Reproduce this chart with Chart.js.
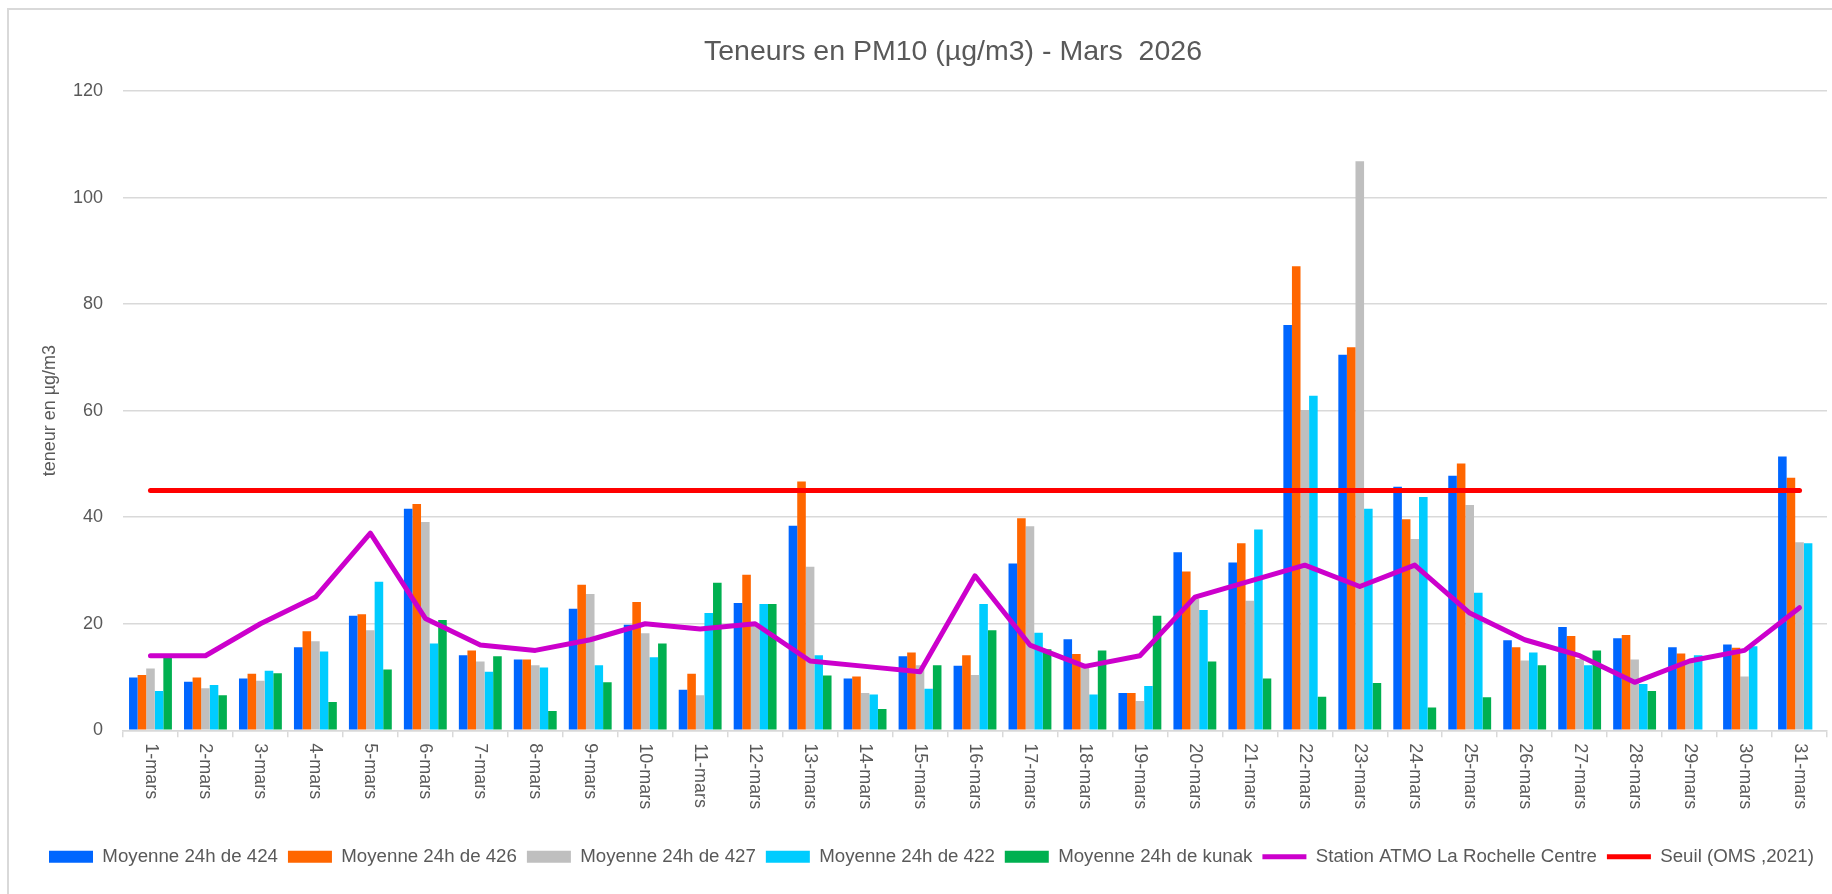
<!DOCTYPE html>
<html>
<head>
<meta charset="utf-8">
<title>Teneurs en PM10 - Mars 2026</title>
<script src="https://cdn.jsdelivr.net/npm/chart.js@4.4.1/dist/chart.umd.min.js"></script>
<style>
    html, body { margin: 0; padding: 0; background: #ffffff; overflow: hidden; }
    #cadre { position: absolute; left: 7px; top: 8px; width: 1900px; height: 950px;
             border-left: 2px solid #d9d9d9; border-top: 2px solid #d9d9d9; }
    #graphique { position: absolute; left: 0; top: 0; }
</style>
</head>
<body>
<div id="cadre"></div>
<canvas id="graphique" width="1832" height="894"></canvas>
<script>
// Jours du mois (étiquettes de l'axe X)
const jours = ['1-mars', '2-mars', '3-mars', '4-mars', '5-mars', '6-mars', '7-mars', '8-mars',
    '9-mars', '10-mars', '11-mars', '12-mars', '13-mars', '14-mars', '15-mars', '16-mars',
    '17-mars', '18-mars', '19-mars', '20-mars', '21-mars', '22-mars', '23-mars', '24-mars',
    '25-mars', '26-mars', '27-mars', '28-mars', '29-mars', '30-mars', '31-mars'];

// Moyennes 24h des capteurs (µg/m3)
const capteur424 = [9.9, 9.1, 9.7, 15.6, 21.5, 41.6, 14.1, 13.3, 22.8, 19.8, 7.6, 23.9, 38.4, 9.7, 13.9, 12.1,
    31.3, 17.1, 7.0, 33.4, 31.5, 76.1, 70.5, 45.7, 47.8, 16.9, 19.4, 17.3, 15.6, 16.1, 51.4];
const capteur426 = [10.4, 9.9, 10.6, 18.6, 21.8, 42.5, 15.0, 13.3, 27.3, 24.1, 10.6, 29.2, 46.7, 10.1, 14.6, 14.1,
    39.8, 14.3, 7.0, 29.8, 35.1, 87.1, 71.9, 39.6, 50.1, 15.6, 17.7, 17.9, 14.4, 15.5, 47.4];
const capteur427 = [11.6, 7.9, 9.3, 16.7, 18.8, 39.1, 12.9, 12.2, 25.6, 18.2, 6.6, 20.0, 30.7, 7.0, 12.2, 10.4,
    38.3, 12.1, 5.5, 24.7, 24.3, 60.1, 106.8, 35.9, 42.3, 13.1, 13.4, 13.3, 12.8, 10.1, 35.3];
const capteur422 = [7.4, 8.5, 11.2, 14.8, 27.9, 16.3, 11.0, 11.8, 12.2, 13.7, 22.0, 23.7, 14.1, 6.7, 7.8, 23.7,
    18.3, 6.7, 8.3, 22.6, 37.7, 62.8, 41.6, 43.8, 25.8, 14.6, 12.2, 8.7, 14.1, 15.8, 35.1];
const capteurKunak = [13.6, 6.6, 10.7, 5.3, 11.4, 20.7, 13.9, 3.6, 9.0, 16.3, 27.7, 23.7, 10.3, 4.0, 12.2, 18.8,
    15.2, 15.0, 21.5, 12.9, 9.7, 6.3, 8.9, 4.3, 6.2, 12.2, 15.0, 7.4, null, null, null];

// Station de référence ATMO
const stationAtmo = [14, 14, 20, 25, 37, 21, 16, 15, 17, 20, 19, 20, 13, 12, 11, 29,
    16, 12, 14, 25, 28, 31, 27, 31, 22, 17, 14, 9, 13, 15, 23];

// Seuil OMS 2021 (45 µg/m3 en moyenne journalière)
const seuilOms = [45, 45, 45, 45, 45, 45, 45, 45, 45, 45, 45, 45, 45, 45, 45, 45,
    45, 45, 45, 45, 45, 45, 45, 45, 45, 45, 45, 45, 45, 45, 45];

const titre = 'Teneurs en PM10 (µg/m3) - Mars  2026';
const texteGris = '#595959';
const grille = '#d9d9d9';
const police = "'Liberation Sans', Arial, sans-serif";

// Plugin maison : titre décalé comme dans Excel + jours écrits à la verticale (de haut en bas)
const textesExcel = {
    id: 'textesExcel',
    beforeLayout(chart) {
        // on laisse un peu plus de place à la légende pour qu'elle tienne sur une ligne
        const legende = chart.legend;
        if (legende && !legende._elargie) {
            const update = legende.update.bind(legende);
            legende.update = (w, h, m) => update(w + 80, h, m);
            legende._elargie = true;
        }
    },
    afterLayout(chart) {
        if (chart.legend) {
            chart.legend.right += 80;
        }
    },
    afterDraw(chart) {
        const ctx = chart.ctx;
        const axeX = chart.scales.x;
        ctx.save();
        ctx.fillStyle = texteGris;

        ctx.font = '28.5px ' + police;
        ctx.textAlign = 'center';
        ctx.textBaseline = 'middle';
        ctx.fillText(titre, 953, 52);

        ctx.font = '18px ' + police;
        ctx.textAlign = 'left';
        axeX.ticks.forEach((tick, i) => {
            const x = axeX.getPixelForTick(i);
            ctx.save();
            ctx.translate(x, axeX.top + 13);
            ctx.rotate(Math.PI / 2);
            ctx.fillText(jours[i], 0, 0);
            ctx.restore();
        });
        ctx.restore();
    }
};

function serieBarres(nom, valeurs, couleur) {
    return {
        label: nom,
        data: valeurs,
        backgroundColor: couleur,
        borderWidth: 0,
        barPercentage: 1,
        categoryPercentage: 0.78,
        order: 3
    };
}

function serieLigne(nom, valeurs, couleur, ordre) {
    return {
        type: 'line',
        label: nom,
        data: valeurs,
        borderColor: couleur,
        backgroundColor: couleur,
        borderWidth: 5,
        borderCapStyle: 'round',
        borderJoinStyle: 'round',
        pointRadius: 0,
        tension: 0,
        order: ordre
    };
}

const ctx = document.getElementById('graphique').getContext('2d');

new Chart(ctx, {
    type: 'bar',
    data: {
        labels: jours,
        datasets: [
            serieBarres('Moyenne 24h de 424', capteur424, '#0066ff'),
            serieBarres('Moyenne 24h de 426', capteur426, '#ff6600'),
            serieBarres('Moyenne 24h de 427', capteur427, '#bfbfbf'),
            serieBarres('Moyenne 24h de 422', capteur422, '#00ccff'),
            serieBarres('Moyenne 24h de kunak', capteurKunak, '#00b050'),
            serieLigne('Station ATMO La Rochelle Centre', stationAtmo, '#cc00cc', 2),
            serieLigne('Seuil (OMS ,2021)', seuilOms, '#ff0000', 1)
        ]
    },
    options: {
        responsive: false,
        animation: false,
        devicePixelRatio: 1,
        layout: { padding: { left: 39, right: 5, top: 91, bottom: 18 } },
        scales: {
            x: {
                offset: true,
                grid: {
                    display: true,
                    offset: true,
                    drawOnChartArea: false,
                    drawTicks: true,
                    tickLength: 7,
                    color: grille,
                    lineWidth: 1.5
                },
                border: { display: true, color: grille, width: 1.5 },
                ticks: { display: false },
                afterFit: (axe) => { axe.height = 107; }
            },
            y: {
                min: 0,
                max: 120,
                ticks: {
                    stepSize: 20,
                    color: texteGris,
                    padding: 20,
                    font: { family: police, size: 18 }
                },
                grid: { color: grille, lineWidth: 1.5, drawTicks: false },
                border: { display: false },
                title: {
                    display: true,
                    text: 'teneur en µg/m3',
                    color: texteGris,
                    font: { family: police, size: 18 },
                    padding: { top: 0, bottom: 4 }
                },
                afterFit: (axe) => { axe.width = 84; }
            }
        },
        plugins: {
            title: { display: false },
            legend: {
                display: true,
                position: 'bottom',
                align: 'start',
                labels: {
                    color: texteGris,
                    font: { family: police, size: 18.7 },
                    usePointStyle: true,
                    pointStyleWidth: 44,
                    boxHeight: 12,
                    padding: 10,
                    sort: (a, b) => a.datasetIndex - b.datasetIndex,
                    generateLabels: (chart) => {
                        const items = Chart.defaults.plugins.legend.labels.generateLabels(chart);
                        items.forEach(item => {
                            const ds = chart.data.datasets[item.datasetIndex];
                            item.pointStyle = ds.type === 'line' ? 'line' : 'rect';
                        });
                        return items;
                    }
                }
            },
            tooltip: { enabled: false }
        }
    },
    plugins: [textesExcel]
});
</script>
</body>
</html>
